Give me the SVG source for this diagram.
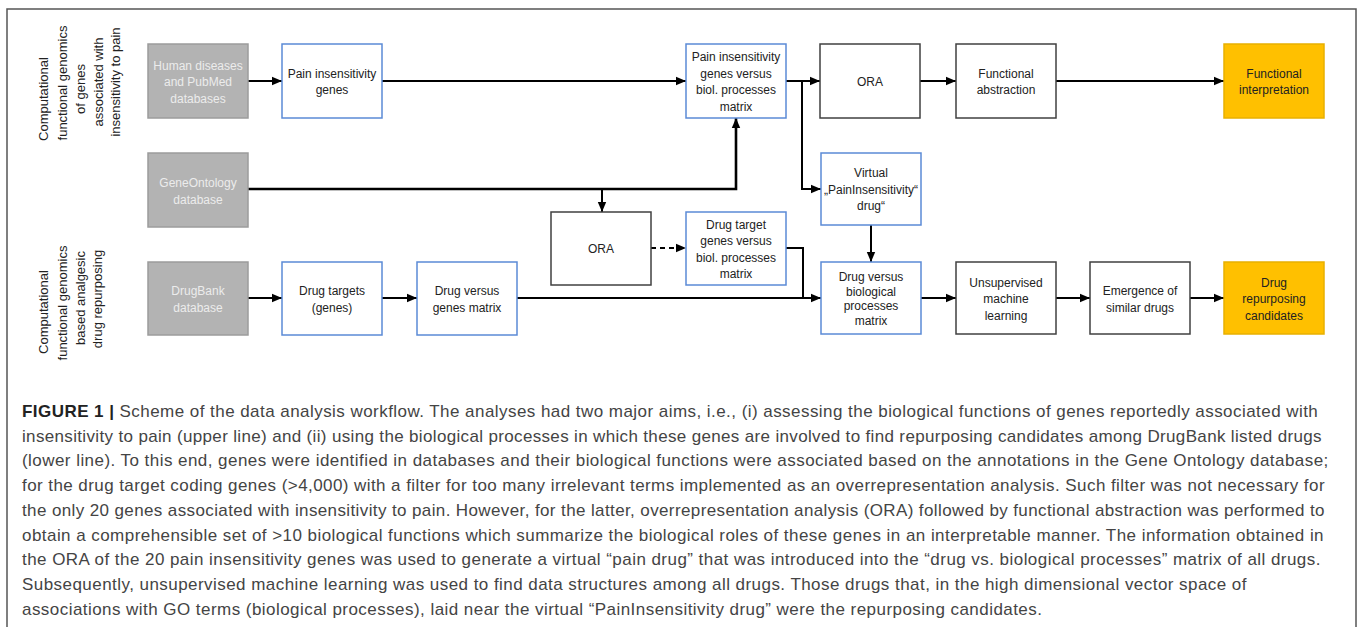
<svg xmlns="http://www.w3.org/2000/svg" width="1360" height="627" viewBox="0 0 1360 627">
<defs>
<style>
.frame{fill:#fff;stroke:#555;stroke-width:1.5}
.gray{fill:#b3b3b3;stroke:#9c9c9c;stroke-width:1.5}
.blue{fill:#fff;stroke:#5b8ad6;stroke-width:1.5}
.blk{fill:#fff;stroke:#404040;stroke-width:1.5}
.org{fill:#ffc000;stroke:#e8b000;stroke-width:1.5}
.t{font-family:"Liberation Sans",Arial,sans-serif;font-size:12px;fill:#222;text-anchor:middle}
.tg{font-family:"Liberation Sans",Arial,sans-serif;font-size:12px;fill:#ececec;text-anchor:middle}
.side{font-family:"Liberation Sans",Arial,sans-serif;font-size:13px;fill:#222;text-anchor:middle}
.ln{fill:none;stroke:#000;stroke-width:2}
.cap{font-family:"Liberation Sans",Arial,sans-serif;font-size:17px;fill:#444;letter-spacing:0.45px}
.capb{font-weight:bold;fill:#222}
</style>
<marker id="ah" markerWidth="10" markerHeight="10" refX="10" refY="5" orient="auto" markerUnits="userSpaceOnUse">
<path d="M0,0.8 L10,5 L0,9.2 z" fill="#000"/>
</marker>
</defs>
<rect class="frame" x="7" y="9" width="1349" height="625"/>

<g id="side-labels">
<text class="side" transform="translate(48,0) rotate(-90)"><tspan x="-99" y="0">Computational</tspan></text>
<text class="side" transform="translate(67,0) rotate(-90)"><tspan x="-83" y="0">functional genomics</tspan></text>
<text class="side" transform="translate(85,0) rotate(-90)"><tspan x="-89" y="0">of genes</tspan></text>
<text class="side" transform="translate(103,0) rotate(-90)"><tspan x="-82" y="0">associated with</tspan></text>
<text class="side" transform="translate(120,0) rotate(-90)"><tspan x="-82" y="0">insensitivity to pain</tspan></text>
<text class="side" transform="translate(48,0) rotate(-90)"><tspan x="-312" y="0">Computational</tspan></text>
<text class="side" transform="translate(67,0) rotate(-90)"><tspan x="-303" y="0">functional genomics</tspan></text>
<text class="side" transform="translate(85,0) rotate(-90)"><tspan x="-298" y="0">based analgesic</tspan></text>
<text class="side" transform="translate(102,0) rotate(-90)"><tspan x="-299" y="0">drug repurposing</tspan></text>
</g>

<g id="connectors">
<line class="ln" x1="248" y1="81" x2="282" y2="81" marker-end="url(#ah)"/>
<line class="ln" x1="382" y1="81" x2="686" y2="81" marker-end="url(#ah)"/>
<line class="ln" x1="786" y1="81" x2="820" y2="81" marker-end="url(#ah)"/>
<polyline class="ln" points="802,81 802,189 821,189" marker-end="url(#ah)"/>
<line class="ln" x1="920" y1="81" x2="956" y2="81" marker-end="url(#ah)"/>
<line class="ln" x1="1056" y1="81" x2="1224" y2="81" marker-end="url(#ah)"/>
<polyline class="ln" style="stroke-width:2.6" points="248,189 736,189 736,118" marker-end="url(#ah)"/>
<line class="ln" x1="602" y1="189" x2="602" y2="212" marker-end="url(#ah)"/>
<line class="ln" x1="651" y1="248" x2="686" y2="248" stroke-dasharray="5,4" marker-end="url(#ah)"/>
<polyline class="ln" points="786,248 803,248 803,298"/>
<line class="ln" x1="517" y1="298" x2="821" y2="298" marker-end="url(#ah)"/>
<line class="ln" x1="871" y1="225" x2="871" y2="262" marker-end="url(#ah)"/>
<line class="ln" x1="248" y1="298" x2="282" y2="298" marker-end="url(#ah)"/>
<line class="ln" x1="382" y1="298" x2="417" y2="298" marker-end="url(#ah)"/>
<line class="ln" x1="921" y1="298" x2="956" y2="298" marker-end="url(#ah)"/>
<line class="ln" x1="1056" y1="298" x2="1090" y2="298" marker-end="url(#ah)"/>
<line class="ln" x1="1190" y1="298" x2="1224" y2="298" marker-end="url(#ah)"/>
</g>

<g id="human-db">
<rect class="gray" x="148" y="44" width="100" height="74"/>
<text class="tg"><tspan x="198" y="69.5">Human diseases</tspan><tspan x="198" y="86">and PubMed</tspan><tspan x="198" y="102.5">databases</tspan></text>
</g>
<g id="pain-genes">
<rect class="blue" x="282" y="44" width="100" height="74"/>
<text class="t"><tspan x="332" y="77.5">Pain insensitivity</tspan><tspan x="332" y="94">genes</tspan></text>
</g>
<g id="pain-matrix">
<rect class="blue" x="686" y="44" width="100" height="74"/>
<text class="t"><tspan x="736" y="61">Pain insensitivity</tspan><tspan x="736" y="77.5">genes versus</tspan><tspan x="736" y="94">biol. processes</tspan><tspan x="736" y="110.5">matrix</tspan></text>
</g>
<g id="ora-top">
<rect class="blk" x="820" y="44" width="100" height="74"/>
<text class="t"><tspan x="870" y="85.5">ORA</tspan></text>
</g>
<g id="functional-abstraction">
<rect class="blk" x="956" y="44" width="100" height="74"/>
<text class="t"><tspan x="1006" y="77.5">Functional</tspan><tspan x="1006" y="94">abstraction</tspan></text>
</g>
<g id="functional-interpretation">
<rect class="org" x="1224" y="44" width="100" height="74"/>
<text class="t"><tspan x="1274" y="77.5">Functional</tspan><tspan x="1274" y="94">interpretation</tspan></text>
</g>
<g id="geneontology-db">
<rect class="gray" x="148" y="153" width="100" height="74"/>
<text class="tg"><tspan x="198" y="187">GeneOntology</tspan><tspan x="198" y="203.5">database</tspan></text>
</g>
<g id="virtual-drug">
<rect class="blue" x="821" y="153" width="100" height="72"/>
<text class="t"><tspan x="871" y="177">Virtual</tspan><tspan x="871" y="193.5">„PainInsensitivity“</tspan><tspan x="871" y="210">drug“</tspan></text>
</g>
<g id="ora-mid">
<rect class="blk" x="551" y="212" width="100" height="73"/>
<text class="t"><tspan x="601" y="252.5">ORA</tspan></text>
</g>
<g id="drug-target-matrix">
<rect class="blue" x="686" y="212" width="100" height="73"/>
<text class="t"><tspan x="736" y="228.5">Drug target</tspan><tspan x="736" y="245">genes versus</tspan><tspan x="736" y="261.5">biol. processes</tspan><tspan x="736" y="278">matrix</tspan></text>
</g>
<g id="drugbank-db">
<rect class="gray" x="148" y="262" width="100" height="73"/>
<text class="tg"><tspan x="198" y="295">DrugBank</tspan><tspan x="198" y="311.5">database</tspan></text>
</g>
<g id="drug-targets">
<rect class="blue" x="282" y="262" width="100" height="73"/>
<text class="t"><tspan x="332" y="295">Drug targets</tspan><tspan x="332" y="311.5">(genes)</tspan></text>
</g>
<g id="drug-genes-matrix">
<rect class="blue" x="417" y="262" width="100" height="73"/>
<text class="t"><tspan x="467" y="295">Drug versus</tspan><tspan x="467" y="311.5">genes matrix</tspan></text>
</g>
<g id="drug-bio-matrix">
<rect class="blue" x="821" y="262" width="100" height="72"/>
<text class="t"><tspan x="871" y="281">Drug versus</tspan><tspan x="871" y="295.5">biological</tspan><tspan x="871" y="310">processes</tspan><tspan x="871" y="324.5">matrix</tspan></text>
</g>
<g id="unsupervised-ml">
<rect class="blk" x="956" y="262" width="100" height="72"/>
<text class="t"><tspan x="1006" y="286.5">Unsupervised</tspan><tspan x="1006" y="303">machine</tspan><tspan x="1006" y="319.5">learning</tspan></text>
</g>
<g id="emergence">
<rect class="blk" x="1090" y="262" width="100" height="72"/>
<text class="t"><tspan x="1140" y="295">Emergence of</tspan><tspan x="1140" y="311.5">similar drugs</tspan></text>
</g>
<g id="drug-repurposing">
<rect class="org" x="1224" y="262" width="100" height="72"/>
<text class="t"><tspan x="1274" y="286.5">Drug</tspan><tspan x="1274" y="303">repurposing</tspan><tspan x="1274" y="319.5">candidates</tspan></text>
</g>

<g id="caption" class="cap">
<text x="22" y="417"><tspan class="capb">FIGURE 1 |</tspan> Scheme of the data analysis workflow. The analyses had two major aims, i.e., (i) assessing the biological functions of genes reportedly associated with</text>
<text x="22" y="442" textLength="1300" lengthAdjust="spacing">insensitivity to pain (upper line) and (ii) using the biological processes in which these genes are involved to find repurposing candidates among DrugBank listed drugs</text>
<text x="22" y="466">(lower line). To this end, genes were identified in databases and their biological functions were associated based on the annotations in the Gene Ontology database;</text>
<text x="22" y="491" textLength="1303" lengthAdjust="spacing">for the drug target coding genes (&gt;4,000) with a filter for too many irrelevant terms implemented as an overrepresentation analysis. Such filter was not necessary for</text>
<text x="22" y="516" textLength="1303" lengthAdjust="spacing">the only 20 genes associated with insensitivity to pain. However, for the latter, overrepresentation analysis (ORA) followed by functional abstraction was performed to</text>
<text x="22" y="541">obtain a comprehensible set of &gt;10 biological functions which summarize the biological roles of these genes in an interpretable manner. The information obtained in</text>
<text x="22" y="565">the ORA of the 20 pain insensitivity genes was used to generate a virtual “pain drug” that was introduced into the “drug vs. biological processes” matrix of all drugs.</text>
<text x="22" y="590">Subsequently, unsupervised machine learning was used to find data structures among all drugs. Those drugs that, in the high dimensional vector space of</text>
<text x="22" y="615">associations with GO terms (biological processes), laid near the virtual “PainInsensitivity drug” were the repurposing candidates.</text>
</g>
</svg>
